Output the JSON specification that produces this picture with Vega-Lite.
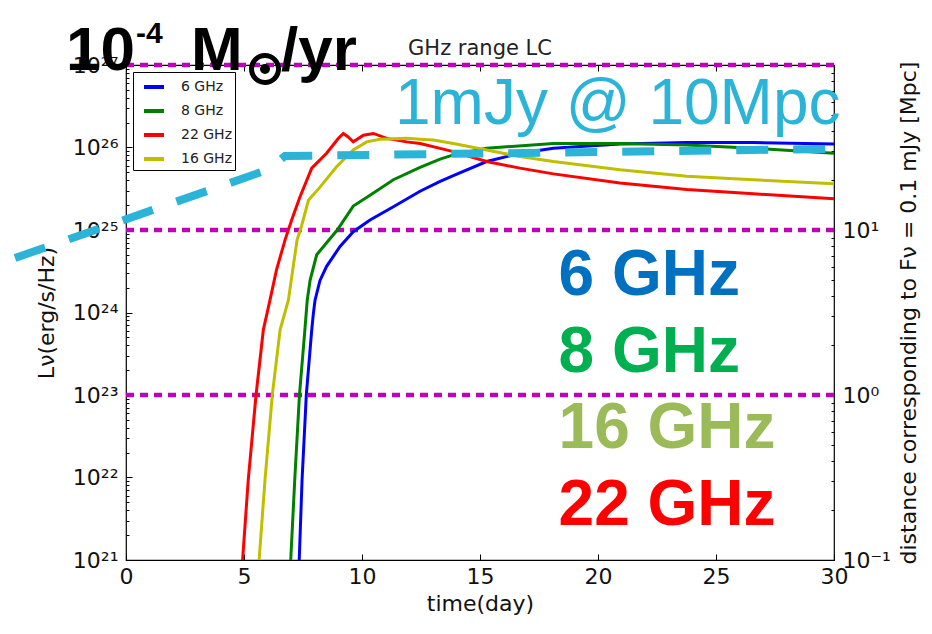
{
  "$schema": "https://vega.github.io/schema/vega-lite/v6.json",
  "width": 708,
  "height": 495,
  "autosize": {"type": "none"},
  "padding": {"left": 126, "top": 65, "right": 98, "bottom": 74},
  "background": "white",
  "config": {
    "font": "DejaVu Sans",
    "view": {"stroke": "black", "strokeWidth": 1.2},
    "axis": {"grid": false, "domain": false, "tickColor": "black", "tickWidth": 1, "labelColor": "#111", "titleColor": "#111", "labelFont": "DejaVu Sans", "titleFont": "DejaVu Sans", "labelFontSize": 22, "titleFontSize": 22, "titleFontWeight": "normal", "labelOverlap": false, "labelFlush": false}
  },
  "layer": [
    {
      "data": {"values": [{"d": 100}, {"d": 10}, {"d": 1}]},
      "mark": {"type": "rule", "color": "#bf00bf", "strokeWidth": 4.5, "strokeDash": [8, 6]},
      "encoding": {
        "y": {
          "field": "d", "type": "quantitative",
          "scale": {"type": "log", "domain": [0.1, 100], "nice": false},
          "axis": {
            "orient": "right",
            "values": [0.1,0.2,0.3,0.4,0.5,0.6,0.7,0.8,0.9,1,2,3,4,5,6,7,8,9,10,20,30,40,50,60,70,80,90,100],
            "labelExpr": "datum.value==0.1?'10⁻¹':datum.value==1?'10⁰':datum.value==10?'10¹':''",
            "tickSize": {"condition": {"test": "indexof([0.1,1,10,100], datum.value) >= 0", "value": -6}, "value": -3},
            "labelPadding": 14,
            "title": "distance corresponding to Fν = 0.1 mJy [Mpc]",
            "titleAngle": 270,
            "titlePadding": 30
          }
        }
      }
    },
    {
      "layer": [
        {
          "data": {"values": [
            {"band": "6 GHz", "t": 7.34, "L": 1e21},
            {"band": "6 GHz", "t": 7.46, "L": 9.33e21},
            {"band": "6 GHz", "t": 7.64, "L": 1e23},
            {"band": "6 GHz", "t": 7.87, "L": 6.17e23},
            {"band": "6 GHz", "t": 7.94, "L": 9.77e23},
            {"band": "6 GHz", "t": 8.01, "L": 1.41e24},
            {"band": "6 GHz", "t": 8.22, "L": 2.45e24},
            {"band": "6 GHz", "t": 8.5, "L": 3.63e24},
            {"band": "6 GHz", "t": 9.07, "L": 6.31e24},
            {"band": "6 GHz", "t": 9.63, "L": 9.55e24},
            {"band": "6 GHz", "t": 10.34, "L": 1.32e25},
            {"band": "6 GHz", "t": 11.33, "L": 1.91e25},
            {"band": "6 GHz", "t": 12.46, "L": 2.95e25},
            {"band": "6 GHz", "t": 13.31, "L": 3.89e25},
            {"band": "6 GHz", "t": 13.87, "L": 4.57e25},
            {"band": "6 GHz", "t": 15.28, "L": 6.76e25},
            {"band": "6 GHz", "t": 16.69, "L": 8.51e25},
            {"band": "6 GHz", "t": 18.11, "L": 9.77e25},
            {"band": "6 GHz", "t": 20.93, "L": 1.10e26},
            {"band": "6 GHz", "t": 23.76, "L": 1.15e26},
            {"band": "6 GHz", "t": 26.58, "L": 1.15e26},
            {"band": "6 GHz", "t": 30, "L": 1.10e26},
            {"band": "8 GHz", "t": 6.98, "L": 1e21},
            {"band": "8 GHz", "t": 7.15, "L": 9.33e21},
            {"band": "8 GHz", "t": 7.35, "L": 1e23},
            {"band": "8 GHz", "t": 7.58, "L": 6.17e23},
            {"band": "8 GHz", "t": 7.68, "L": 1.41e24},
            {"band": "8 GHz", "t": 7.8, "L": 2.45e24},
            {"band": "8 GHz", "t": 8.08, "L": 5.01e24},
            {"band": "8 GHz", "t": 8.95, "L": 1e25},
            {"band": "8 GHz", "t": 9.63, "L": 1.95e25},
            {"band": "8 GHz", "t": 10.34, "L": 2.63e25},
            {"band": "8 GHz", "t": 11.33, "L": 4.07e25},
            {"band": "8 GHz", "t": 12.46, "L": 5.75e25},
            {"band": "8 GHz", "t": 13.31, "L": 7.24e25},
            {"band": "8 GHz", "t": 13.87, "L": 8.13e25},
            {"band": "8 GHz", "t": 15.28, "L": 9.77e25},
            {"band": "8 GHz", "t": 18.11, "L": 1.12e26},
            {"band": "8 GHz", "t": 20.93, "L": 1.12e26},
            {"band": "8 GHz", "t": 23.76, "L": 1.07e26},
            {"band": "8 GHz", "t": 26.58, "L": 9.77e25},
            {"band": "8 GHz", "t": 30, "L": 8.51e25},
            {"band": "22 GHz", "t": 4.94, "L": 1e21},
            {"band": "22 GHz", "t": 5.18, "L": 9.33e21},
            {"band": "22 GHz", "t": 5.51, "L": 1e23},
            {"band": "22 GHz", "t": 5.82, "L": 6.17e23},
            {"band": "22 GHz", "t": 6.1, "L": 1.41e24},
            {"band": "22 GHz", "t": 6.38, "L": 3.31e24},
            {"band": "22 GHz", "t": 6.74, "L": 7.59e24},
            {"band": "22 GHz", "t": 7.02, "L": 1.32e25},
            {"band": "22 GHz", "t": 7.37, "L": 2.51e25},
            {"band": "22 GHz", "t": 7.87, "L": 5.62e25},
            {"band": "22 GHz", "t": 8.5, "L": 8.51e25},
            {"band": "22 GHz", "t": 9.0, "L": 1.29e26},
            {"band": "22 GHz", "t": 9.21, "L": 1.48e26},
            {"band": "22 GHz", "t": 9.4, "L": 1.35e26},
            {"band": "22 GHz", "t": 9.63, "L": 1.17e26},
            {"band": "22 GHz", "t": 10.06, "L": 1.41e26},
            {"band": "22 GHz", "t": 10.48, "L": 1.48e26},
            {"band": "22 GHz", "t": 11.05, "L": 1.29e26},
            {"band": "22 GHz", "t": 11.89, "L": 1.17e26},
            {"band": "22 GHz", "t": 12.46, "L": 1.12e26},
            {"band": "22 GHz", "t": 13.31, "L": 9.77e25},
            {"band": "22 GHz", "t": 13.87, "L": 8.91e25},
            {"band": "22 GHz", "t": 15.28, "L": 6.76e25},
            {"band": "22 GHz", "t": 16.69, "L": 5.62e25},
            {"band": "22 GHz", "t": 18.11, "L": 4.79e25},
            {"band": "22 GHz", "t": 20.93, "L": 3.72e25},
            {"band": "22 GHz", "t": 23.76, "L": 3.09e25},
            {"band": "22 GHz", "t": 26.58, "L": 2.75e25},
            {"band": "22 GHz", "t": 30, "L": 2.40e25},
            {"band": "16 GHz", "t": 5.64, "L": 1e21},
            {"band": "16 GHz", "t": 5.89, "L": 9.33e21},
            {"band": "16 GHz", "t": 6.2, "L": 1e23},
            {"band": "16 GHz", "t": 6.53, "L": 6.17e23},
            {"band": "16 GHz", "t": 6.88, "L": 1.41e24},
            {"band": "16 GHz", "t": 7.25, "L": 7.59e24},
            {"band": "16 GHz", "t": 7.42, "L": 1.07e25},
            {"band": "16 GHz", "t": 7.73, "L": 2.29e25},
            {"band": "16 GHz", "t": 8.22, "L": 3.31e25},
            {"band": "16 GHz", "t": 8.93, "L": 5.89e25},
            {"band": "16 GHz", "t": 9.63, "L": 9.33e25},
            {"band": "16 GHz", "t": 10.2, "L": 1.17e26},
            {"band": "16 GHz", "t": 10.76, "L": 1.26e26},
            {"band": "16 GHz", "t": 11.89, "L": 1.29e26},
            {"band": "16 GHz", "t": 12.46, "L": 1.26e26},
            {"band": "16 GHz", "t": 13.02, "L": 1.23e26},
            {"band": "16 GHz", "t": 13.87, "L": 1.12e26},
            {"band": "16 GHz", "t": 15.28, "L": 9.33e25},
            {"band": "16 GHz", "t": 16.69, "L": 7.76e25},
            {"band": "16 GHz", "t": 18.11, "L": 6.76e25},
            {"band": "16 GHz", "t": 20.93, "L": 5.37e25},
            {"band": "16 GHz", "t": 23.76, "L": 4.47e25},
            {"band": "16 GHz", "t": 26.58, "L": 4.07e25},
            {"band": "16 GHz", "t": 30, "L": 3.63e25}
          ]},
          "mark": {"type": "line", "strokeWidth": 3},
          "encoding": {
            "x": {
              "field": "t", "type": "quantitative",
              "scale": {"domain": [0, 30], "nice": false},
              "axis": {"orient": "bottom", "values": [0,5,10,15,20,25,30], "format": "d", "tickSize": -6, "labelPadding": 12, "title": "time(day)", "titlePadding": 6}
            },
            "y": {
              "field": "L", "type": "quantitative",
              "scale": {"type": "log", "domain": [1e21, 1e27], "nice": false},
              "axis": {
                "orient": "left",
                "values": [1e21,2e21,3e21,4e21,5e21,6e21,7e21,8e21,9e21,1e22,2e22,3e22,4e22,5e22,6e22,7e22,8e22,9e22,1e23,2e23,3e23,4e23,5e23,6e23,7e23,8e23,9e23,1e24,2e24,3e24,4e24,5e24,6e24,7e24,8e24,9e24,1e25,2e25,3e25,4e25,5e25,6e25,7e25,8e25,9e25,1e26,2e26,3e26,4e26,5e26,6e26,7e26,8e26,9e26,1e27],
                "labelExpr": "datum.value==1e21?'10²¹':datum.value==1e22?'10²²':datum.value==1e23?'10²³':datum.value==1e24?'10²⁴':datum.value==1e25?'10²⁵':datum.value==1e26?'10²⁶':datum.value==1e27?'10²⁷':''",
                "tickSize": {"condition": {"test": "indexof([1e21,1e22,1e23,1e24,1e25,1e26,1e27], datum.value) >= 0", "value": -6}, "value": -3},
                "labelPadding": 14,
                "title": "Lν(erg/s/Hz)",
                "titlePadding": 14
              }
            },
            "color": {
              "field": "band", "type": "nominal",
              "scale": {"domain": ["6 GHz", "8 GHz", "22 GHz", "16 GHz"], "range": ["#0000ff", "#008000", "#ff0000", "#bfbf00"]},
              "legend": {"orient": "top-left", "offset": 7, "title": null, "strokeColor": "black", "fillColor": "white", "padding": 3, "symbolType": "stroke", "symbolStrokeWidth": 4, "symbolSize": 400, "symbolOffset": 6, "labelOffset": 15, "labelFontSize": 14, "labelFont": "DejaVu Sans", "labelColor": "#222", "rowPadding": 4, "cornerRadius": 0}
            }
          }
        },
        {
          "data": {"values": [
            {"t": -4.703, "L": 4.58e24},
            {"t": 5.975, "L": 5.33e25},
            {"t": 6.737, "L": 7.89e25},
            {"t": 30, "L": 9.6e25}
          ]},
          "mark": {"type": "line", "color": "#2bb4d8", "strokeWidth": 8, "strokeDash": [32, 25], "strokeCap": "butt"},
          "encoding": {"x": {"field": "t", "type": "quantitative"}, "y": {"field": "L", "type": "quantitative"}}
        },
        {
          "data": {"values": [{"t": 15, "L": 1.32e27, "label": "GHz range LC"}]},
          "mark": {"type": "text", "align": "center", "baseline": "alphabetic", "font": "DejaVu Sans", "fontSize": 21, "color": "#222"},
          "encoding": {"x": {"field": "t", "type": "quantitative"}, "y": {"field": "L", "type": "quantitative"}, "text": {"field": "label"}}
        },
        {
          "data": {"values": [{"t": 11.398, "L": 1.93e26, "label": "1mJy @ 10Mpc"}]},
          "mark": {"type": "text", "align": "left", "baseline": "alphabetic", "font": "Liberation Sans", "fontSize": 64, "color": "#2bb4d8"},
          "encoding": {"x": {"field": "t", "type": "quantitative"}, "y": {"field": "L", "type": "quantitative"}, "text": {"field": "label"}}
        },
        {
          "data": {"values": [{"t": 18.33, "L": 1.63e24, "label": "6 GHz"}]},
          "mark": {"type": "text", "align": "left", "baseline": "alphabetic", "font": "Liberation Sans", "fontWeight": "bold", "fontSize": 64, "color": "#0070c0"},
          "encoding": {"x": {"field": "t", "type": "quantitative"}, "y": {"field": "L", "type": "quantitative"}, "text": {"field": "label"}}
        },
        {
          "data": {"values": [{"t": 18.33, "L": 1.90e23, "label": "8 GHz"}]},
          "mark": {"type": "text", "align": "left", "baseline": "alphabetic", "font": "Liberation Sans", "fontWeight": "bold", "fontSize": 64, "color": "#00b050"},
          "encoding": {"x": {"field": "t", "type": "quantitative"}, "y": {"field": "L", "type": "quantitative"}, "text": {"field": "label"}}
        },
        {
          "data": {"values": [{"t": 18.33, "L": 2.28e22, "label": "16 GHz"}]},
          "mark": {"type": "text", "align": "left", "baseline": "alphabetic", "font": "Liberation Sans", "fontWeight": "bold", "fontSize": 64, "color": "#9bbb59"},
          "encoding": {"x": {"field": "t", "type": "quantitative"}, "y": {"field": "L", "type": "quantitative"}, "text": {"field": "label"}}
        },
        {
          "data": {"values": [{"t": 18.33, "L": 2.65e21, "label": "22 GHz"}]},
          "mark": {"type": "text", "align": "left", "baseline": "alphabetic", "font": "Liberation Sans", "fontWeight": "bold", "fontSize": 64, "color": "#ff0000"},
          "encoding": {"x": {"field": "t", "type": "quantitative"}, "y": {"field": "L", "type": "quantitative"}, "text": {"field": "label"}}
        },
        {
          "data": {"values": [{"t": -2.542, "L": 8.69e26, "label": "10"}, {"t": 2.754, "L": 8.69e26, "label": "M"}, {"t": 6.568, "L": 8.69e26, "label": "/yr"}]},
          "mark": {"type": "text", "align": "left", "baseline": "alphabetic", "font": "Liberation Sans", "fontWeight": "bold", "fontSize": 62, "color": "black"},
          "encoding": {"x": {"field": "t", "type": "quantitative"}, "y": {"field": "L", "type": "quantitative"}, "text": {"field": "label"}}
        },
        {
          "data": {"values": [{"t": 0.424, "L": 1.85e27, "label": "-4"}]},
          "mark": {"type": "text", "align": "left", "baseline": "alphabetic", "font": "Liberation Sans", "fontWeight": "bold", "fontSize": 30, "color": "black"},
          "encoding": {"x": {"field": "t", "type": "quantitative"}, "y": {"field": "L", "type": "quantitative"}, "text": {"field": "label"}}
        },
        {
          "data": {"values": [{"t": 5.89, "L": 8.95e26}]},
          "mark": {"type": "point", "shape": "circle", "filled": false, "size": 729, "stroke": "black", "strokeWidth": 5, "opacity": 1},
          "encoding": {"x": {"field": "t", "type": "quantitative"}, "y": {"field": "L", "type": "quantitative"}}
        },
        {
          "data": {"values": [{"t": 5.89, "L": 8.95e26}]},
          "mark": {"type": "point", "shape": "circle", "filled": true, "size": 100, "color": "black", "opacity": 1},
          "encoding": {"x": {"field": "t", "type": "quantitative"}, "y": {"field": "L", "type": "quantitative"}}
        }
      ]
    },
    {
      "data": {"values": [{"t": 0}]},
      "mark": {"type": "point", "opacity": 0},
      "encoding": {
        "x": {"field": "t", "type": "quantitative", "axis": {"orient": "top", "values": [0,5,10,15,20,25,30], "labels": false, "title": null, "tickSize": -6}}
      }
    }
  ],
  "resolve": {"scale": {"y": "independent"}, "axis": {"x": "independent"}}
}
